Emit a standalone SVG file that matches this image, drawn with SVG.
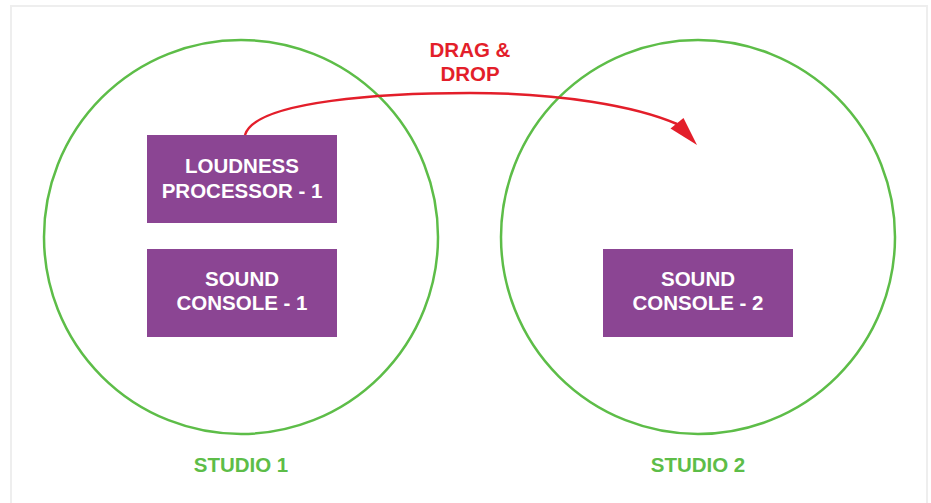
<svg xmlns="http://www.w3.org/2000/svg" width="931" height="503" viewBox="0 0 931 503">
<style>
.circle{fill:none;stroke:#5dbd48;stroke-width:2.5}
.box{fill:#8b4593}
.bt{fill:#fff;font-family:"Liberation Sans",Arial,sans-serif;font-weight:bold;font-size:20.5px;text-anchor:middle}
.st{fill:#5dbd48;font-family:"Liberation Sans",Arial,sans-serif;font-weight:bold;font-size:20.5px;text-anchor:middle}
.rt{fill:#e31e2a;font-family:"Liberation Sans",Arial,sans-serif;font-weight:bold;font-size:20.5px;text-anchor:middle}
</style>
<rect x="0" y="0" width="931" height="503" fill="#fff"/>
<rect x="11" y="6" width="916" height="510" fill="none" stroke="#eeeeee" stroke-width="2"/>
<g id="studio1">
<circle class="circle" cx="241" cy="237" r="197"/>
<text class="st" x="241" y="472">STUDIO 1</text>
</g>
<g id="studio2">
<circle class="circle" cx="698" cy="237" r="197"/>
<text class="st" x="698" y="472">STUDIO 2</text>
</g>
<g id="loudness1">
<rect class="box" x="147" y="135" width="190" height="88"/>
<text class="bt" x="242" y="172.5">LOUDNESS</text>
<text class="bt" x="242" y="197.5">PROCESSOR - 1</text>
</g>
<g id="console1">
<rect class="box" x="147" y="249" width="190" height="88"/>
<text class="bt" x="242" y="285.5">SOUND</text>
<text class="bt" x="242" y="310">CONSOLE - 1</text>
</g>
<g id="console2">
<rect class="box" x="603" y="249" width="190" height="88"/>
<text class="bt" x="698" y="285.5">SOUND</text>
<text class="bt" x="698" y="310">CONSOLE - 2</text>
</g>
<g id="connectors">
<path d="M245,135 C255,100 390,93 470,93 C560,93 635,106 677,124" fill="none" stroke="#e31e2a" stroke-width="2.5"/>
<path d="M697,145 L670.5,128.5 L683.5,118 z" fill="#e31e2a"/>
<text class="rt" x="470" y="57">DRAG &amp;</text>
<text class="rt" x="470" y="81">DROP</text>
</g>
</svg>
